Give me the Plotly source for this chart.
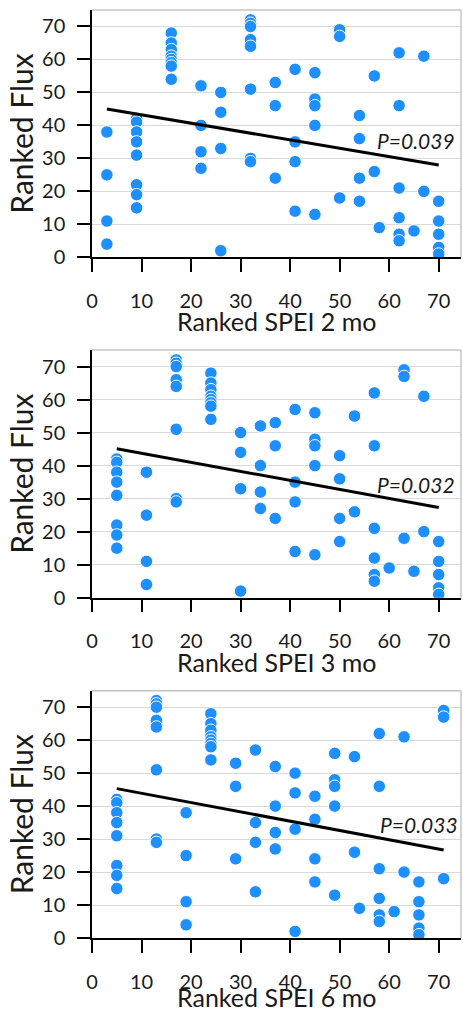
import plotly.graph_objects as go

# ---------------- data ----------------
# Panel 1: Ranked SPEI 2 mo
spei2_x = [3, 3, 3, 3,
           9, 9, 9, 9, 9, 9, 9, 9,
           16, 16, 16, 16, 16, 16, 16, 16,
           22, 22, 22, 22,
           26, 26, 26, 26,
           32, 32, 32, 32, 32, 32, 32, 32,
           37, 37, 37,
           41, 41, 41, 41,
           45, 45, 45, 45, 45,
           50, 50, 50,
           54, 54, 54, 54,
           57, 57,
           58,
           62, 62, 62, 62, 62, 62,
           65,
           67, 67,
           70, 70, 70, 70, 70]
spei2_y = [38, 25, 11, 4,
           42, 41, 38, 35, 31, 22, 19, 15,
           68, 65, 63, 61, 60, 59, 58, 54,
           52, 40, 32, 27,
           50, 44, 33, 2,
           72, 71, 70, 66, 64, 51, 30, 29,
           53, 46, 24,
           57, 35, 29, 14,
           56, 48, 46, 40, 13,
           69, 67, 18,
           43, 36, 24, 17,
           55, 26,
           9,
           62, 46, 21, 12, 7, 5,
           8,
           61, 20,
           17, 11, 7, 3, 1]

# Panel 2: Ranked SPEI 3 mo
spei3_x = [5, 5, 5, 5, 5, 5, 5, 5,
           11, 11, 11, 11,
           17, 17, 17, 17, 17, 17, 17, 17,
           24, 24, 24, 24, 24, 24, 24, 24,
           30, 30, 30, 30,
           34, 34, 34, 34,
           37, 37, 37,
           41, 41, 41, 41,
           45, 45, 45, 45, 45,
           50, 50, 50, 50,
           53, 53,
           57, 57, 57, 57, 57, 57,
           60,
           63, 63, 63,
           65,
           67, 67,
           70, 70, 70, 70, 70]
spei3_y = [42, 41, 38, 35, 31, 22, 19, 15,
           38, 25, 11, 4,
           72, 71, 70, 66, 64, 51, 30, 29,
           68, 65, 63, 61, 60, 59, 58, 54,
           50, 44, 33, 2,
           52, 40, 32, 27,
           53, 46, 24,
           57, 35, 29, 14,
           56, 48, 46, 40, 13,
           43, 36, 24, 17,
           55, 26,
           62, 46, 21, 12, 7, 5,
           9,
           69, 67, 18,
           8,
           61, 20,
           17, 11, 7, 3, 1]

# Panel 3: Ranked SPEI 6 mo
spei6_x = [5, 5, 5, 5, 5, 5, 5, 5,
           13, 13, 13, 13, 13, 13, 13, 13,
           19, 19, 19, 19,
           24, 24, 24, 24, 24, 24, 24, 24,
           29, 29, 29,
           33, 33, 33, 33,
           37, 37, 37, 37,
           41, 41, 41, 41,
           45, 45, 45, 45,
           49, 49, 49, 49, 49,
           53, 53,
           54,
           58, 58, 58, 58, 58, 58,
           61,
           63, 63,
           66, 66, 66, 66, 66,
           71, 71, 71]
spei6_y = [42, 41, 38, 35, 31, 22, 19, 15,
           72, 71, 70, 66, 64, 51, 30, 29,
           38, 25, 11, 4,
           68, 65, 63, 61, 60, 59, 58, 54,
           53, 46, 24,
           57, 35, 29, 14,
           52, 40, 32, 27,
           50, 44, 33, 2,
           43, 36, 24, 17,
           56, 48, 46, 40, 13,
           55, 26,
           9,
           62, 46, 21, 12, 7, 5,
           8,
           61, 20,
           17, 11, 7, 3, 1,
           69, 67, 18]

# regression-line end points
fit2_x, fit2_y = [3, 70], [45.0, 28.0]
fit3_x, fit3_y = [5, 70], [45.1, 27.3]
fit6_x, fit6_y = [5, 71], [45.3, 26.7]

p_labels = ["P=0.039", "P=0.032", "P=0.033"]
p_pos_x = [65.5, 65.5, 66.1]
p_pos_y = [35.4, 34.4, 34.3]

x_titles = ["Ranked SPEI 2 mo", "Ranked SPEI 3 mo", "Ranked SPEI 6 mo"]
y_title = "Ranked Flux"
tick_vals = [0, 10, 20, 30, 40, 50, 60, 70]

# ---------------- figure ----------------
FONT = "Lato"
TXT = "#1a1a1a"
BLUE = "#1E8FFF"
domains = [[0.7335, 1.0], [0.3667, 0.6336], [0.0, 0.2665]]
title_shift = [-64, -64, -59]
series = [(spei2_x, spei2_y, fit2_x, fit2_y),
          (spei3_x, spei3_y, fit3_x, fit3_y),
          (spei6_x, spei6_y, fit6_x, fit6_y)]

fig = go.Figure()
layout = dict(
    width=463, height=1013,
    margin=dict(l=92, r=2, t=10, b=75),
    plot_bgcolor="white", paper_bgcolor="white",
    showlegend=False,
    font=dict(family=FONT, color=TXT),
)
shapes = []
annotations = []
for i, (sx, sy, fx, fy) in enumerate(series):
    n = "" if i == 0 else str(i + 1)
    xa, ya = "x" + n, "y" + n
    fig.add_trace(go.Scatter(
        x=sx, y=sy, mode="markers", xaxis=xa, yaxis=ya,
        marker=dict(color=BLUE, size=12.5, line=dict(color="white", width=1)),
    ))
    fig.add_trace(go.Scatter(
        x=fx, y=fy, mode="lines", xaxis=xa, yaxis=ya,
        line=dict(color="black", width=3),
    ))
    layout["xaxis" + n] = dict(
        domain=[0, 1], anchor=ya, range=[0, 74.5], automargin=False,
        tickvals=tick_vals, ticks="outside", ticklen=13, tickwidth=1.5,
        tickcolor="black", showline=True, linecolor="black", linewidth=1.5,
        showgrid=False, zeroline=False,
        tickfont=dict(size=20, family=FONT, color=TXT),
        ticklabelstandoff=12,
    )
    layout["yaxis" + n] = dict(
        domain=domains[i], anchor=xa, range=[0, 75], automargin=False,
        tickvals=tick_vals, ticks="outside", ticklen=13, tickwidth=1.5,
        tickcolor="black", showline=True, linecolor="black", linewidth=1.5,
        showgrid=True, gridcolor="#d9d9d9", gridwidth=1.2, zeroline=False,
        tickfont=dict(size=20, family=FONT, color=TXT),
        ticklabelstandoff=8,
    )
    shapes.append(dict(type="line", xref=xa + " domain", yref=ya + " domain",
                       x0=0, x1=1, y0=1, y1=1, line=dict(color="#c4c4c4", width=1.5)))
    shapes.append(dict(type="line", xref=xa + " domain", yref=ya + " domain",
                       x0=1, x1=1, y0=0, y1=1, line=dict(color="#c4c4c4", width=1.5)))
    annotations.append(dict(x=p_pos_x[i], y=p_pos_y[i], xref=xa, yref=ya,
                            text="<i>" + p_labels[i] + "</i>", showarrow=False,
                            xanchor="center", yanchor="middle",
                            font=dict(size=21, family=FONT, color=TXT)))
    # axis titles
    annotations.append(dict(x=0.5, y=0, xref=xa + " domain", yref=ya + " domain",
                            text=x_titles[i], showarrow=False,
                            xanchor="center", yanchor="middle", yshift=title_shift[i],
                            font=dict(size=25, family=FONT, color=TXT)))
    annotations.append(dict(x=0, y=0.5, xref=xa + " domain", yref=ya + " domain",
                            text=y_title, showarrow=False, textangle=-90,
                            xanchor="center", yanchor="middle", xshift=-71,
                            font=dict(size=30, family=FONT, color=TXT)))
layout["shapes"] = shapes
layout["annotations"] = annotations
fig.update_layout(**layout)
fig.write_html("out.html")
